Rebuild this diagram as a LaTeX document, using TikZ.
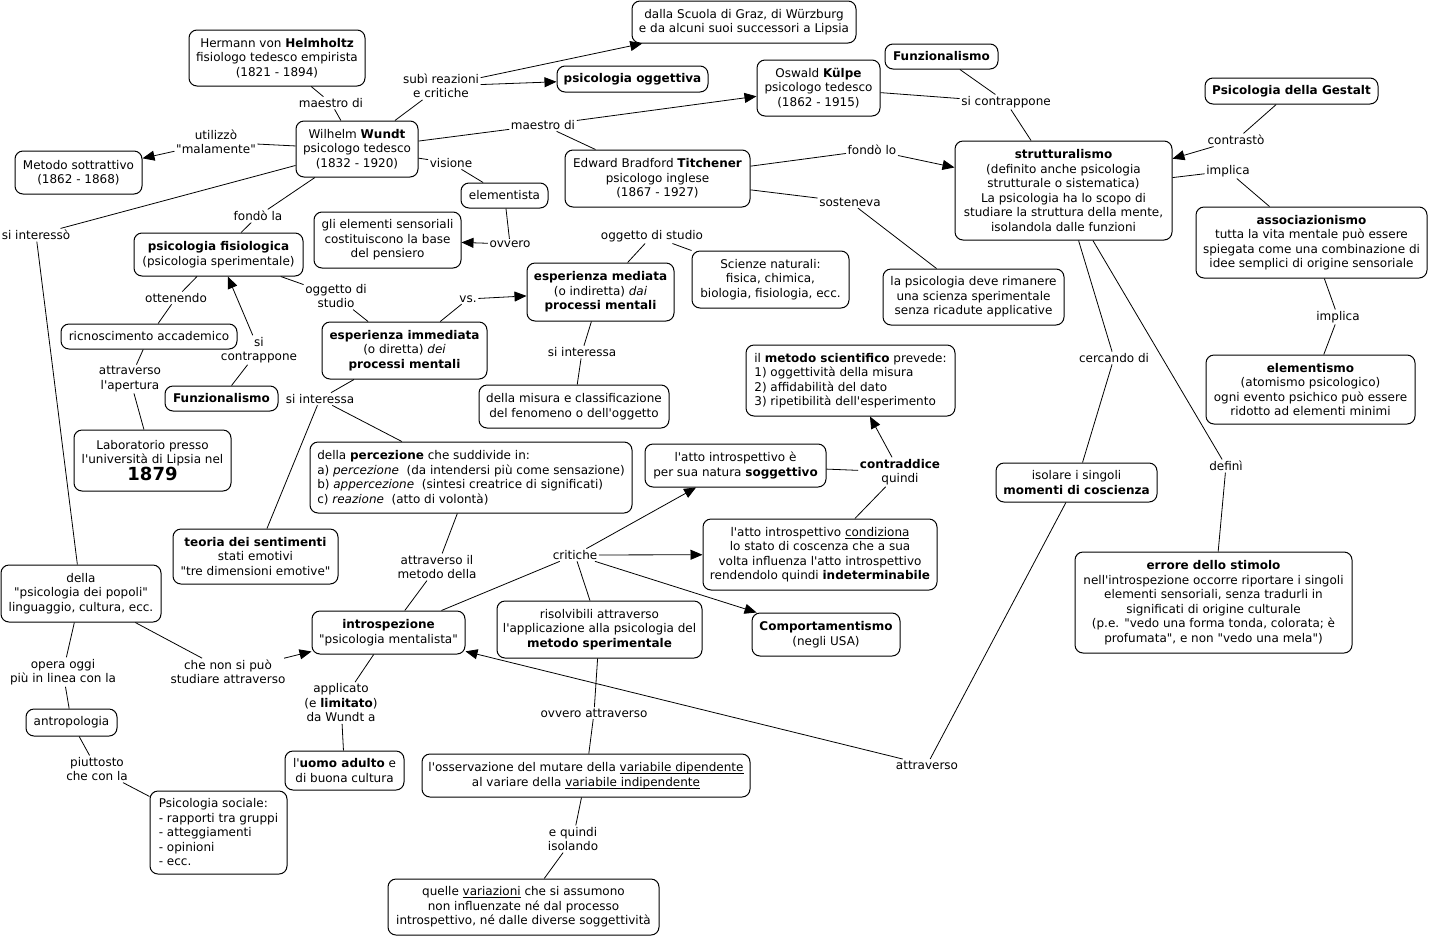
\documentclass[tikz,border=0pt]{standalone}
\usepackage{fontspec}
\setmainfont{DejaVu Sans}[Ligatures=TeXOff]
\usetikzlibrary{arrows.meta}
\newsavebox{\myulbox}
\newcommand{\myul}[1]{\sbox{\myulbox}{#1}\rlap{\rule[-2.2pt]{\wd\myulbox}{0.7pt}}\usebox{\myulbox}}
\begin{document}
\begin{tikzpicture}[x=1pt,y=-1pt,
  every node/.style={font=\fontsize{12}{14.5}\selectfont},
  box/.style={draw, rounded corners=8pt, align=center, inner sep=2pt, line width=1pt},
  boxl/.style={box, align=left},
  sz/.style 2 args={minimum width=#1pt, minimum height=#2pt},
  lab/.style={align=center, inner sep=1.5pt},
  ln/.style={line width=0.8pt},
  arr/.style={ln, -{Triangle[length=12pt,width=10pt]}}]
\fill[white] (0,0) rectangle (1430,938);
\useasboundingbox (0,0) rectangle (1430,938);

% concepts
\node[box,sz={176}{56}] (helm) at (277,58) {Hermann von \textbf{Helmholtz}\\fisiologo tedesco empirista\\(1821 - 1894)};
\node[box,sz={122}{56}] (wundt) at (357,149) {Wilhelm \textbf{Wundt}\\psicologo tedesco\\(1832 - 1920)};
\node[box,sz={127}{43}] (sottr) at (78.5,172.5) {Metodo sottrattivo\\(1862 - 1868)};
\node[box,sz={224}{42}] (graz) at (744,22) {dalla Scuola di Graz, di Würzburg\\e da alcuni suoi successori a Lipsia};
\node[box,sz={151}{26}] (ogg) at (632.5,79) {\textbf{psicologia oggettiva}};
\node[box,sz={123}{56}] (kulpe) at (818.5,88) {Oswald \textbf{Külpe}\\psicologo tedesco\\(1862 - 1915)};
\node[box,sz={113}{25}] (funz1) at (941.5,56.5) {\textbf{Funzionalismo}};
\node[box,sz={173}{26}] (gestalt) at (1291.5,91) {\textbf{Psicologia della Gestalt}};
\node[box,sz={217}{99}] (strutt) at (1063.5,190.5) {\textbf{strutturalismo}\\(definito anche psicologia\\strutturale o sistematica)\\La psicologia ha lo scopo di\\studiare la struttura della mente,\\isolandola dalle funzioni};
\node[box,sz={231}{71}] (assoc) at (1311.5,242.5) {\textbf{associazionismo}\\tutta la vita mentale può essere\\spiegata come una combinazione di\\idee semplici di origine sensoriale};
\node[box,sz={209}{69}] (elem) at (1310.5,389.5) {\textbf{elementismo}\\(atomismo psicologico)\\ogni evento psichico può essere\\ridotto ad elementi minimi};
\node[box,sz={185}{57}] (titch) at (657.5,178.5) {Edward Bradford \textbf{Titchener}\\psicologo inglese\\(1867 - 1927)};
\node[box,sz={87}{25}] (elista) at (504.5,195.5) {elementista};
\node[box,sz={147}{56}] (glielem) at (387.5,240) {gli elementi sensoriali\\costituiscono la base\\del pensiero};
\node[box,sz={169}{43}] (fisiol) at (218.5,254.5) {\textbf{psicologia fisiologica}\\(psicologia sperimentale)};
\node[box,sz={157}{57}] (scienze) at (770.5,279.5) {Scienze naturali:\\fisica, chimica,\\biologia, fisiologia, ecc.};
\node[box,sz={147}{58}] (mediata) at (600.5,292) {\textbf{esperienza mediata}\\(o indiretta) \textit{dai}\\\textbf{processi mentali}};
\node[box,sz={181}{56}] (riman) at (973.5,297) {la psicologia deve rimanere\\una scienza sperimentale\\senza ricadute applicative};
\node[box,sz={176}{25}] (ricon) at (149,336.5) {ricnoscimento accademico};
\node[box,sz={165}{57}] (immed) at (404.5,350.5) {\textbf{esperienza immediata}\\(o diretta) \textit{dei}\\\textbf{processi mentali}};
\node[box,sz={113}{25}] (funz2) at (221.5,398.5) {\textbf{Funzionalismo}};
\node[box,sz={157}{61}] (labor) at (152.5,460.5) {Laboratorio presso\\l'università di Lipsia nel\\{\fontsize{18}{19}\selectfont\bfseries 1879}};
\node[box,sz={190}{43}] (misura) at (574,406.5) {della misura e classificazione\\del fenomeno o dell'oggetto};
\node[boxl,sz={209}{71}] (metodo) at (850.5,380.5) {il \textbf{metodo scientifico} prevede:\\1) oggettività della misura\\2) affidabilità del dato\\3) ripetibilità dell'esperimento};
\node[boxl,sz={322}{71}] (percez) at (471,477.5) {della \textbf{percezione} che suddivide in:\\a) \textit{percezione}\ \ (da intendersi più come sensazione)\\b) \textit{appercezione}\ \ (sintesi creatrice di significati)\\c) \textit{reazione}\ \ (atto di volontà)};
\node[box,sz={181}{43}] (sogg) at (735.5,465.5) {l'atto introspettivo è\\per sua natura \textbf{soggettivo}};
\node[box,sz={234}{71}] (condiz) at (820,554.5) {l'atto introspettivo \myul{condiziona}\\lo stato di coscenza che a sua\\volta influenza l'atto introspettivo\\rendendolo quindi \textbf{indeterminabile}};
\node[box,sz={161}{39}] (isolare) at (1076.5,482.5) {isolare i singoli\\\textbf{momenti di coscienza}};
\node[box,sz={277}{101}] (errore) at (1213.5,602.5) {\textbf{errore dello stimolo}\\nell'introspezione occorre riportare i singoli\\elementi sensoriali, senza tradurli in\\significati di origine culturale\\(p.e. "vedo una forma tonda, colorata; è\\profumata", e non "vedo una mela")};
\node[box,sz={165}{55}] (teoria) at (255.5,556.5) {\textbf{teoria dei sentimenti}\\stati emotivi\\"tre dimensioni emotive"};
\node[box,sz={160}{57}] (popoli) at (81,593.5) {della\\"psicologia dei popoli"\\linguaggio, cultura, ecc.};
\node[box,sz={153}{43}] (intro) at (388.5,632.5) {\textbf{introspezione}\\"psicologia mentalista"};
\node[box,sz={205}{57}] (risolv) at (599.5,629.5) {risolvibili attraverso\\l'applicazione alla psicologia del\\\textbf{metodo sperimentale}};
\node[box,sz={148}{43}] (comport) at (826,634.5) {\textbf{Comportamentismo}\\(negli USA)};
\node[box,sz={91}{27}] (antrop) at (71.5,722.5) {antropologia};
\node[box,sz={119}{39}] (uomo) at (344.5,770.5) {l'\textbf{uomo adulto} e\\di buona cultura};
\node[box,sz={328}{43}] (osserv) at (586,775.5) {l'osservazione del mutare della \myul{variabile dipendente}\\al variare della \myul{variabile indipendente}};
\node[boxl,sz={137}{83}] (sociale) at (218.5,832.5) {Psicologia sociale:\\- rapporti tra gruppi\\- atteggiamenti\\- opinioni\\- ecc.};
\node[box,sz={271}{56}] (variaz) at (523.5,907) {quelle \myul{variazioni} che si assumono\\non influenzate né dal processo\\introspettivo, né dalle diverse soggettività};

% linking phrases
\node[lab] (l1) at (331,103) {maestro di};
\node[lab] (l2) at (441,86) {subì reazioni\\e critiche};
\node[lab] (l3) at (216,142) {utilizzò\\"malamente"};
\node[lab] (l4) at (543,125) {maestro di};
\node[lab] (l5) at (451,163) {visione};
\node[lab] (l6) at (510,244) {ovvero};
\node[lab] (l7) at (36,235) {si interessò};
\node[lab] (l8) at (258,216) {fondò la};
\node[lab] (l9) at (176,298) {ottenendo};
\node[lab] (l10) at (336,296) {oggetto di\\studio};
\node[lab] (l11) at (468,299) {vs.};
\node[lab] (l12) at (652,236) {oggetto di studio};
\node[lab] (l13) at (259,350) {si\\contrappone};
\node[lab] (l14) at (130,379) {attraverso\\l'apertura};
\node[lab] (l15) at (320,399) {si interessa};
\node[lab] (l16) at (582,352) {si interessa};
\node[lab] (l17) at (872,150) {fondò lo};
\node[lab] (l18) at (850,202) {sosteneva};
\node[lab] (l19) at (1006,102) {si contrappone};
\node[lab] (l20) at (1236,140) {contrastò};
\node[lab] (l21) at (1228,171) {implica};
\node[lab] (l22) at (1338,317) {implica};
\node[lab] (l23) at (1114,358) {cercando di};
\node[lab] (l24) at (1226,466) {definì};
\node[lab] (l25) at (900,472) {\textbf{contraddice}\\quindi};
\node[lab] (l26) at (575,555) {critiche};
\node[lab] (l27) at (437,567) {attraverso il\\metodo della};
\node[lab] (l28) at (927,765) {attraverso};
\node[lab] (l29) at (594,713) {ovvero attraverso};
\node[lab] (l30) at (573,839) {e quindi\\isolando};
\node[lab] (l31) at (63,672) {opera oggi\\più in linea con la};
\node[lab] (l32) at (228,672) {che non si può\\studiare attraverso};
\node[lab] (l33) at (341,703) {applicato\\(e \textbf{limitato})\\da Wundt a};
\node[lab] (l34) at (97,769) {piuttosto\\che con la};

% connectors
\draw[ln] (helm) -- (l1) -- (wundt);
\draw[ln] (wundt) -- (l2);
\draw[arr] (l2) -- (graz);
\draw[arr] (l2) -- (ogg);
\draw[ln] (wundt) -- (l3);
\draw[arr] (l3) -- (sottr);
\draw[ln] (wundt) -- (l4);
\draw[arr] (l4) -- (kulpe);
\draw[ln] (l4) -- (titch);
\draw[ln] (wundt) -- (l5) -- (elista);
\draw[ln] (elista) -- (l6);
\draw[arr] (l6) -- (glielem);
\draw[ln] (wundt) -- (l7) -- (popoli);
\draw[ln] (wundt) -- (l8) -- (fisiol);
\draw[ln] (fisiol) -- (l9) -- (ricon);
\draw[ln] (ricon) -- (l14) -- (labor);
\draw[ln] (fisiol) -- (l10) -- (immed);
\draw[ln] (immed) -- (l11);
\draw[arr] (l11) -- (mediata);
\draw[ln] (funz2) -- (l13);
\draw[arr] (l13) -- (fisiol);
\draw[ln] (mediata) -- (l12) -- (scienze);
\draw[ln] (mediata) -- (l16) -- (misura);
\draw[ln] (immed) -- (l15) -- (teoria);
\draw[ln] (l15) -- (percez);
\draw[ln] (percez) -- (l27) -- (intro);
\draw[ln] (intro) -- (l26);
\draw[arr] (l26) -- (sogg);
\draw[arr] (l26) -- (condiz);
\draw[ln] (l26) -- (risolv);
\draw[arr] (l26) -- (comport);
\draw[ln] (risolv) -- (l29) -- (osserv);
\draw[ln] (osserv) -- (l30) -- (variaz);
\draw[ln] (intro) -- (l33) -- (uomo);
\draw[ln] (popoli) -- (l31) -- (antrop);
\draw[ln] (antrop) -- (l34) -- (sociale);
\draw[ln] (popoli) -- (l32);
\draw[arr] (l32) -- (intro);
\draw[ln] (isolare) -- (l28);
\draw[arr] (l28) -- (intro);
\draw[ln] (strutt) -- (l23) -- (isolare);
\draw[ln] (strutt) -- (l24) -- (errore);
\draw[ln] (strutt) -- (l21) -- (assoc);
\draw[ln] (assoc) -- (l22) -- (elem);
\draw[ln] (gestalt) -- (l20);
\draw[arr] (l20) -- (strutt);
\draw[ln] (titch) -- (l17);
\draw[arr] (l17) -- (strutt);
\draw[ln] (titch) -- (l18) -- (riman);
\draw[ln] (kulpe) -- (l19);
\draw[ln] (funz1) -- (l19);
\draw[ln] (l19) -- (strutt);
\draw[ln] (sogg) -- (l25);
\draw[arr] (l25) -- (metodo);
\draw[ln] (l25) -- (condiz);
\end{tikzpicture}
\end{document}
